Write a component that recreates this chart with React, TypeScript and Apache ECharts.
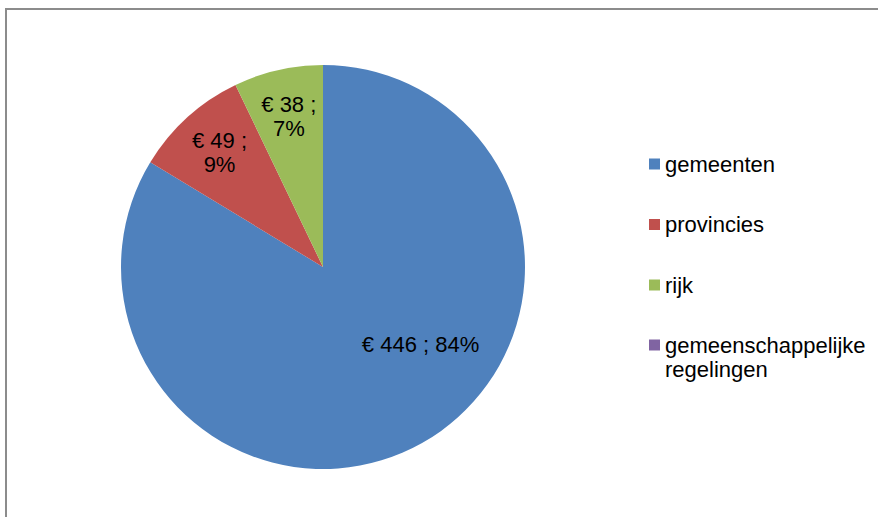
import React, { useEffect, useRef } from "react";
import * as echarts from "echarts";

const categories = ["gemeenten", "provincies", "rijk", "gemeenschappelijke regelingen"];
const values = [446, 49, 38, 0];
const colors = ["#4F81BD", "#C0504D", "#9BBB59", "#8064A2"];

const FONT = "'Liberation Sans', Arial, sans-serif";

export default function App() {
  const ref = useRef<HTMLDivElement>(null);
  useEffect(() => {
    if (!ref.current) return;
    const chart = echarts.init(ref.current, null, { renderer: "svg" });
    const data = categories.map((name, i) => ({
      name,
      value: values[i],
      itemStyle: { color: colors[i] },
    }));
    const legendText = {
      fontFamily: FONT,
      fontSize: 22,
      color: "#000",
      lineHeight: 22,
    };
    chart.setOption({
      animation: false,
      backgroundColor: "#fff",
      graphic: [
        {
          type: "rect",
          shape: { x: 6, y: 9, width: 1000, height: 700 },
          style: { fill: "none", stroke: "#8c8c8c", lineWidth: 2 },
          silent: true,
        },
      ],
      legend: [
        {
          orient: "vertical",
          left: 649,
          top: 153,
          padding: 0,
          itemWidth: 11,
          itemHeight: 11,
          itemGap: 38.5,
          icon: "rect",
          selectedMode: false,
          data: categories.slice(0, 3),
          textStyle: legendText,
        },
        {
          orient: "vertical",
          left: 649,
          top: 309,
          padding: 0,
          itemWidth: 11,
          itemHeight: 11,
          icon: "rect",
          selectedMode: false,
          data: categories.slice(3),
          formatter: (name: string) => " \n" + name.replace(" ", "\n"),
          textStyle: { ...legendText, lineHeight: 24 },
        },
      ],
      series: [
        {
          type: "pie",
          center: [323, 267],
          radius: 202,
          startAngle: 90,
          clockwise: true,
          silent: true,
          label: { show: false },
          labelLine: { show: false },
          itemStyle: { borderWidth: 0 },
          data,
        },
        {
          type: "pie",
          center: [323, 267],
          radius: [100, 202],
          startAngle: 90,
          clockwise: true,
          silent: true,
          itemStyle: { color: "rgba(0,0,0,0)", borderWidth: 0 },
          labelLine: { show: false },
          label: {
            show: true,
            position: "inside",
            fontFamily: FONT,
            fontSize: 22,
            lineHeight: 24,
            color: "#000",
            formatter: (p: any) => {
              if (!p.value) return "";
              const pct = Math.round(p.percent);
              return p.percent > 50
                ? `€ ${p.value} ; ${pct}%`
                : `€ ${p.value} ;\n${pct}%`;
            },
          },
          labelLayout: (p: any) => (p.dataIndex === 0 ? { dx: 22, dy: -57 } : {}),
          data: categories.map((name, i) => ({ name, value: values[i] })),
        },
      ],
    });
    return () => chart.dispose();
  }, []);
  return (
    <div
      ref={ref}
      style={{ position: "absolute", left: 0, top: 0, width: 878, height: 517 }}
    />
  );
}
